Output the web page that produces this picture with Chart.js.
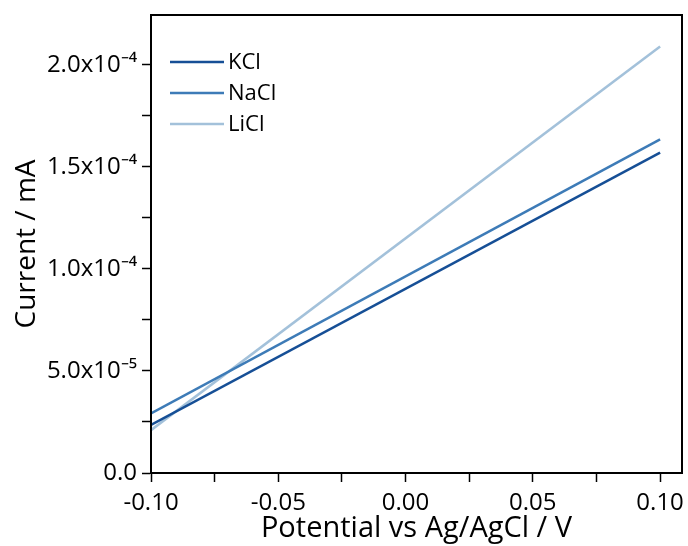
<!DOCTYPE html>
<html>
<head>
<meta charset="utf-8">
<script src="https://cdn.jsdelivr.net/npm/chart.js@4.4.1/dist/chart.umd.min.js"></script>
<style>
  html, body { margin: 0; padding: 0; background: #fff; }
  #wrap { width: 688px; height: 546px; }
</style>
</head>
<body>
<div id="wrap"><canvas id="chart" width="688" height="546"></canvas></div>
<script>
// potential (V) at the two ends of each sweep
const potential = [-0.10, 0.10];
const seriesNames = ['KCl', 'NaCl', 'LiCl'];
const kclCurrent = [2.36e-5, 1.57e-4];
const naclCurrent = [2.92e-5, 1.635e-4];
const liclCurrent = [2.10e-5, 2.09e-4];
const seriesColors = ['#164f96', '#3d7bb7', '#a3c1da'];

const xTicks = [-0.10, -0.075, -0.05, -0.025, 0.00, 0.025, 0.05, 0.075, 0.10];
const xLabels = ['-0.10', '', '-0.05', '', '0.00', '', '0.05', '', '0.10'];
const yTicks = [0, 2.5e-5, 5e-5, 7.5e-5, 1e-4, 1.25e-4, 1.5e-4, 1.75e-4, 2e-4];
const yLabels = ['0.0', '', '5.0x10\u207B\u2075', '', '1.0x10\u207B\u2074', '', '1.5x10\u207B\u2074', '', '2.0x10\u207B\u2074'];

const FONT = 'Open Sans, sans-serif';
const allCurrents = [kclCurrent, naclCurrent, liclCurrent];

const frame = {
    id: 'frame',
    afterDraw(chart) {
        const a = chart.chartArea;
        const c = chart.ctx;
        c.save();
        c.strokeStyle = '#000';
        c.lineWidth = 2;
        c.strokeRect(a.left, a.top, a.right - a.left, a.bottom - a.top);
        c.restore();
    }
};

const insideLegend = {
    id: 'insideLegend',
    afterDraw(chart) {
        const c = chart.ctx;
        const a = chart.chartArea;
        c.save();
        c.font = '22px ' + FONT;
        c.textBaseline = 'middle';
        chart.data.datasets.forEach((ds, i) => {
            const y = a.top + 47 + i * 31;
            c.strokeStyle = ds.borderColor;
            c.lineWidth = ds.borderWidth;
            c.beginPath();
            c.moveTo(a.left + 19, y);
            c.lineTo(a.left + 73, y);
            c.stroke();
            c.fillStyle = '#000';
            c.fillText(ds.label, a.left + 77, y + 1);
        });
        c.restore();
    }
};

new Chart(document.getElementById('chart'), {
    type: 'line',
    data: {
        datasets: seriesNames.map((name, i) => ({
            label: name,
            data: potential.map((x, j) => ({ x: x, y: allCurrents[i][j] })),
            borderColor: seriesColors[i],
            borderWidth: 2.5,
            pointRadius: 0,
            fill: false,
            tension: 0
        }))
    },
    options: {
        responsive: false,
        animation: false,
        layout: { padding: { top: 15, right: 6, left: 0, bottom: 0 } },
        plugins: {
            legend: { display: false },
            tooltip: { enabled: false }
        },
        scales: {
            x: {
                type: 'linear',
                min: -0.10,
                max: 0.1086,
                afterBuildTicks: scale => { scale.ticks = xTicks.map(v => ({ value: v })); },
                afterFit: scale => {
                    scale.height = 73;
                    scale.paddingLeft = 0;
                    scale.paddingRight = 0;
                },
                grid: { display: true, drawOnChartArea: false, drawTicks: true, tickLength: 9, tickWidth: 1.5, color: '#000' },
                border: { display: true, color: '#000', width: 2 },
                ticks: {
                    color: '#000',
                    padding: 7,
                    maxRotation: 0,
                    autoSkip: false,
                    font: { family: FONT, size: 24 },
                    callback: value => {
                        const k = xTicks.findIndex(t => Math.abs(t - value) < 1e-9);
                        return k >= 0 ? xLabels[k] : '';
                    }
                },
                title: {
                    display: true,
                    text: 'Potential vs Ag/AgCl / V',
                    color: '#000',
                    font: { family: FONT, size: 29 },
                    padding: { top: 0, bottom: 0 }
                }
            },
            y: {
                type: 'linear',
                min: 0,
                max: 2.245e-4,
                afterBuildTicks: scale => { scale.ticks = yTicks.map(v => ({ value: v })); },
                afterFit: scale => {
                    scale.width = 151;
                    scale.paddingTop = 0;
                    scale.paddingBottom = 0;
                },
                grid: { display: true, drawOnChartArea: false, drawTicks: true, tickLength: 9, tickWidth: 1.5, color: '#000' },
                border: { display: true, color: '#000', width: 2 },
                ticks: {
                    color: '#000',
                    padding: 5,
                    autoSkip: false,
                    font: { family: FONT, size: 24 },
                    callback: value => {
                        const k = yTicks.findIndex(t => Math.abs(t - value) < 1e-12);
                        return k >= 0 ? yLabels[k] : '';
                    }
                },
                title: {
                    display: true,
                    text: 'Current / mA',
                    color: '#000',
                    font: { family: FONT, size: 28 },
                    padding: { top: 10, bottom: 0 }
                }
            }
        }
    },
    plugins: [frame, insideLegend]
});
</script>
</body>
</html>
